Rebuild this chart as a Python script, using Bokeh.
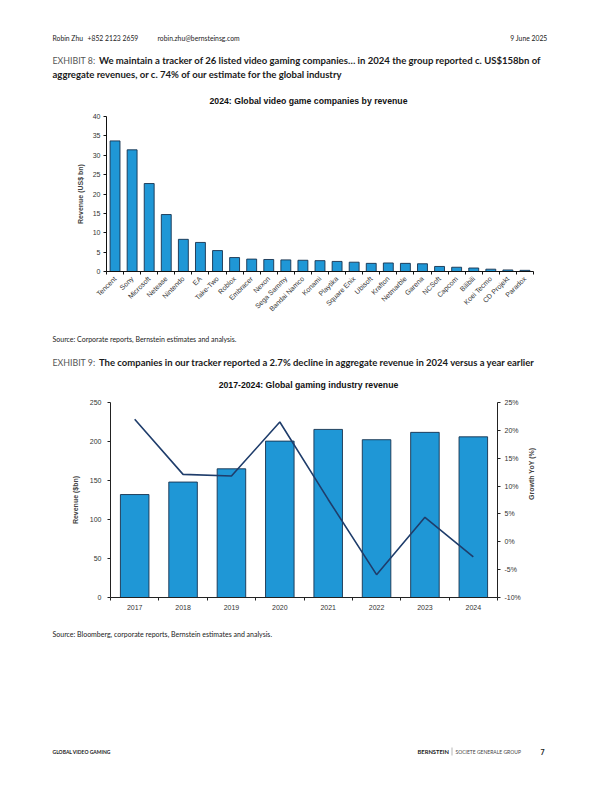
import math
import numpy as np
from bokeh.plotting import figure
from bokeh.layouts import column
from bokeh.models import Range1d, LinearAxis, FixedTicker, PrintfTickFormatter, CustomJSTickFormatter
from bokeh.core.properties import value
from bokeh.embed import file_html
from bokeh.resources import INLINE

# ---------------- data ----------------
companies = ["Tencent", "Sony", "Microsoft", "Netease", "Nintendo", "EA", "Take-Two",
             "Roblox", "Embracer", "Nexon", "Sega Sammy", "Bandai Namco", "Konami",
             "Playtika", "Square Enix", "Ubisoft", "Krafton", "Netmarble", "Garena",
             "NCSoft", "Capcom", "Bilibili", "Koei Tecmo", "CD Projekt", "Paradox"]
revenue_2024 = [33.7, 31.4, 22.7, 14.7, 8.3, 7.5, 5.4, 3.6, 3.2, 3.1, 3.0, 2.9, 2.8,
                2.6, 2.4, 2.1, 2.2, 2.1, 2.0, 1.3, 1.1, 0.9, 0.6, 0.4, 0.3]
rev_ticks = [0, 5, 10, 15, 20, 25, 30, 35, 40]

years = ["2017", "2018", "2019", "2020", "2021", "2022", "2023", "2024"]
industry_revenue = [132, 148, 165, 200.5, 215.5, 202.3, 211.7, 206.0]
growth_yoy = [22.0, 12.1, 11.8, 21.5, 7.6, -5.9, 4.4, -2.7]
ind_ticks = [0, 50, 100, 150, 200, 250]
growth_ticks = [-10, -5, 0, 5, 10, 15, 20, 25]

# ---------------- styles ----------------
PAGE_FONT = "Lato"
ARIAL = "Liberation Sans"
BAR_FILL = "#1f97d6"
BAR_LINE = "#16324f"
LINE_COL = "#1f3d6b"
TICK_COL = "#333333"
W = 612


def text_fig(top, bottom):
    f = figure(width=W, height=bottom - top, x_range=Range1d(0, W),
               y_range=Range1d(bottom, top), output_backend="svg",
               toolbar_location=None, min_border=0, frame_align=False,
               x_axis_location=None, y_axis_location=None)
    f.grid.visible = False
    f.outline_line_color = None
    return f


def txt(f, x, y, s, size, font=PAGE_FONT, style="normal", color="#1a1a1a", align="left"):
    f.text(x=[x], y=[y], text=[s], text_font=value(font), text_font_size=size,
           text_font_style=style, text_color=color, text_align=align,
           text_baseline="middle")


# ---------------- header ----------------
fa = text_fig(0, 108)
txt(fa, 52, 37.5, "Robin Zhu", "6.8px")
txt(fa, 87, 37.5, "+852 2123 2659", "6.8px")
txt(fa, 157, 37.5, "robin.zhu@bernsteinsg.com", "6.8px")
txt(fa, 547, 37.5, "9 June 2025", "6.8px", align="right")
txt(fa, 52, 60, "EXHIBIT 8:", "8.8px", color="#555555")
txt(fa, 98.5, 60, "We maintain a tracker of 26 listed video gaming companies\u2026 in 2024 the group reported c. US$158bn of",
    "9.55px", style="bold")
txt(fa, 52, 73.5, "aggregate revenues, or c. 74% of our estimate for the global industry", "9.55px", style="bold")
txt(fa, 308, 100, "2024: Global video game companies by revenue", "8.7px", font=ARIAL, style="bold",
    color="#111111", align="center")

# ---------------- chart 1 ----------------
n1 = len(companies)
x1 = np.arange(n1) + 0.5
p1 = figure(width=W, height=222, x_range=Range1d(0, n1), y_range=Range1d(0, 40),
            output_backend="svg", toolbar_location=None, frame_align=False,
            min_border_left=106, min_border_right=79, min_border_top=8, min_border_bottom=59)
p1.vbar(x=x1, top=revenue_2024, width=0.58, fill_color=BAR_FILL, line_color=BAR_LINE, line_width=0.9)
p1.grid.visible = False
p1.outline_line_color = None

xa = p1.xaxis[0]
xa.ticker = FixedTicker(ticks=list(x1), minor_ticks=list(range(0, n1 + 1)))
xa.formatter = CustomJSTickFormatter(args=dict(names=companies),
                                     code="return names[Math.floor(tick)];")
xa.major_label_orientation = math.pi / 4
xa.major_tick_out = 0
xa.major_tick_in = 0
xa.minor_tick_out = 3
xa.minor_tick_in = 0
xa.axis_line_color = "#111111"
xa.minor_tick_line_color = "#111111"
xa.major_label_text_font = ARIAL
xa.major_label_text_font_size = "7px"
xa.major_label_text_color = TICK_COL
xa.major_label_standoff = 3

ya = p1.yaxis[0]
ya.ticker = FixedTicker(ticks=rev_ticks)
ya.major_tick_out = 3
ya.major_tick_in = 0
ya.minor_tick_out = 0
ya.minor_tick_in = 0
ya.axis_line_color = "#111111"
ya.major_tick_line_color = "#111111"
ya.major_label_text_font = ARIAL
ya.major_label_text_font_size = "7px"
ya.major_label_text_color = TICK_COL
ya.major_label_standoff = 3
ya.axis_label = "Revenue (US$ bn)"
ya.axis_label_text_font = ARIAL
ya.axis_label_text_font_size = "7px"
ya.axis_label_text_font_style = "bold"
ya.axis_label_standoff = 6

# ---------------- middle text ----------------
fc = text_fig(330, 395)
txt(fc, 52, 338.5, "Source: Corporate reports, Bernstein estimates and analysis.", "7px")
txt(fc, 52, 362, "EXHIBIT 9:", "8.8px", color="#555555")
txt(fc, 98.5, 362, "The companies in our tracker reported a 2.7% decline in aggregate revenue in 2024 versus a year earlier",
    "9.5px", style="bold")
txt(fc, 308, 384, "2017-2024: Global gaming industry revenue", "8.7px", font=ARIAL, style="bold",
    color="#111111", align="center")

# ---------------- chart 2 ----------------
n2 = len(years)
x2 = np.arange(n2) + 0.5
p2 = figure(width=W, height=230, x_range=Range1d(0, n2), y_range=Range1d(0, 250),
            output_backend="svg", toolbar_location=None, frame_align=False,
            min_border_left=110, min_border_right=115, min_border_top=7, min_border_bottom=28)
p2.extra_y_ranges = {"growth": Range1d(-10, 25)}
p2.vbar(x=x2, top=industry_revenue, width=0.59, fill_color=BAR_FILL, line_color=BAR_LINE, line_width=0.9)
p2.line(x=x2, y=growth_yoy, y_range_name="growth", line_color=LINE_COL, line_width=1.6)
p2.grid.visible = False
p2.outline_line_color = None

xb = p2.xaxis[0]
xb.ticker = FixedTicker(ticks=list(x2), minor_ticks=list(range(0, n2 + 1)))
xb.formatter = CustomJSTickFormatter(args=dict(names=years),
                                     code="return names[Math.floor(tick)];")
xb.major_tick_out = 0
xb.major_tick_in = 0
xb.minor_tick_out = 3
xb.minor_tick_in = 0
xb.axis_line_color = "#222222"
xb.minor_tick_line_color = "#222222"
xb.major_label_text_font = ARIAL
xb.major_label_text_font_size = "7px"
xb.major_label_text_color = TICK_COL
xb.major_label_standoff = 4

yb = p2.yaxis[0]
yb.ticker = FixedTicker(ticks=ind_ticks)
yb.major_tick_out = 3
yb.major_tick_in = 0
yb.minor_tick_out = 0
yb.minor_tick_in = 0
yb.axis_line_color = "#222222"
yb.major_tick_line_color = "#222222"
yb.major_label_text_font = ARIAL
yb.major_label_text_font_size = "7px"
yb.major_label_text_color = TICK_COL
yb.major_label_standoff = 6
yb.axis_label = "Revenue ($bn)"
yb.axis_label_text_font = ARIAL
yb.axis_label_text_font_size = "7px"
yb.axis_label_text_font_style = "bold"
yb.axis_label_standoff = 8

yr = LinearAxis(y_range_name="growth", ticker=FixedTicker(ticks=growth_ticks),
                formatter=PrintfTickFormatter(format="%d%%"))
yr.major_tick_out = 3
yr.major_tick_in = 0
yr.minor_tick_out = 0
yr.minor_tick_in = 0
yr.axis_line_color = "#222222"
yr.major_tick_line_color = "#222222"
yr.major_label_text_font = ARIAL
yr.major_label_text_font_size = "7px"
yr.major_label_text_color = TICK_COL
yr.major_label_standoff = 4
yr.axis_label = "Growth YoY (%)"
yr.axis_label_text_font = ARIAL
yr.axis_label_text_font_size = "7px"
yr.axis_label_text_font_style = "bold"
yr.axis_label_standoff = 8
try:
    yr.axis_label_orientation = math.pi / 2
except Exception:
    pass
p2.add_layout(yr, "right")

# ---------------- bottom text ----------------
fe = text_fig(625, 790)
txt(fe, 52, 633.5, "Source: Bloomberg, corporate reports, Bernstein estimates and analysis.", "7px")
txt(fe, 52, 751, "GLOBAL VIDEO GAMING", "5px", style="bold")
txt(fe, 417, 751, "BERNSTEIN", "5.8px", style="bold")
fe.segment(x0=[451.5], y0=[747], x1=[451.5], y1=[755], line_color="#888888", line_width=0.6)
txt(fe, 455, 751, "SOCIETE GENERALE GROUP", "5px", color="#444444")
txt(fe, 544, 751, "7", "7px", style="bold", align="right")

page = column(fa, p1, fc, p2, fe, spacing=0)
open("out.html", "w").write(file_html(page, INLINE))
